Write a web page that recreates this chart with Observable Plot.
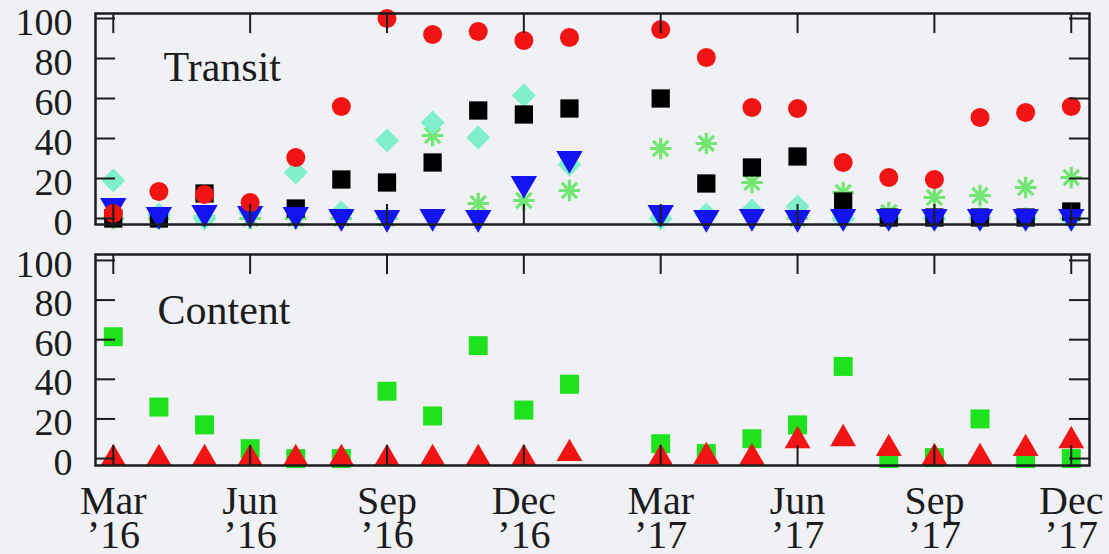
<!DOCTYPE html>
<html>
<head>
<meta charset="utf-8">
<script src="https://cdn.jsdelivr.net/npm/d3@7"></script>
<script src="https://cdn.jsdelivr.net/npm/@observablehq/plot@0.6"></script>
<style>
  html, body { margin: 0; padding: 0; background: #eff1f4; }
  #chart svg { display: block; }
</style>
</head>
<body>
<div id="chart"></div>
<script>
// ---------- data ----------
const months = ["Mar ’16","Apr ’16","May ’16","Jun ’16","Jul ’16","Aug ’16","Sep ’16","Oct ’16","Nov ’16","Dec ’16","Jan ’17","Feb ’17",
                "Mar ’17","Apr ’17","May ’17","Jun ’17","Jul ’17","Aug ’17","Sep ’17","Oct ’17","Nov ’17","Dec ’17"];
const xTickMonths = [0, 3, 6, 9, 12, 15, 18, 21];
const xTickLabels = ["Mar\n’16","Jun\n’16","Sep\n’16","Dec\n’16","Mar\n’17","Jun\n’17","Sep\n’17","Dec\n’17"];
const yTicks = [0, 20, 40, 60, 80, 100];
const panelTitles = ["Transit", "Content"];

// Transit panel
const transitRedCircle   = [2.5, 13.5, 12, 8, 30.5, 56, 100, 92, 93.5, 89, 90.5, null, 94.5, 80.5, 55.5, 55, 28, 20.5, 19.5, 50.5, 53, 56];
const transitBlackSquare = [0, 0, 12.5, null, 5, 19.5, 18, 28, 54, 52, 55, null, 60, 17.5, 25.5, 31, 8.5, 0.5, 0.5, 0.5, 0.5, 3.5];
const transitAquaDiamond = [19, 2, 0, 3, 23, 3, 39, 48, 40.5, 61.5, 27, null, 0, 2, 4, 6, 0, 0, 0, 0, 0, 0];
const transitGreenStar   = [0, 0, 1, 0, 0, 0, 0, 41.5, 7.5, 9, 14, null, 35, 37.5, 18, 0, 13, 3, 10.5, 11.5, 15.5, 20.5];
const transitBlueTri     = [6.5, 2, 3, 2.5, 2, 1, 0.5, 1, 0.5, 17.5, 30, null, 3, 0.5, 1, 0.5, 1, 1, 1, 1, 1, 1];

// Content panel
const contentGreenSquare = [61.5, 26, 17, 5, 0, 0, 34, 21.5, 57, 24.5, 37.5, null, 7.5, 2.5, 10, 17, 46.5, 0, 0.5, 20, 0, 0];
const contentRedTri      = [0, 0, 0, 0, 0, 0, 0, 0, 0, 0, 2.5, null, 0, 1, 0.5, 9, 10, 5, 0.5, 0.5, 5, 9];

// ---------- helpers ----------
function rows(values) {
  return months.map((m, i) => ({month: i, label: m, value: values[i]})).filter(d => d.value != null);
}

const W = 1109, ML = 95, MR = 20;
const frameW = W - ML - MR;
const tickLen = 20;
const ink = "#1c1c1c";
const bg = "#eff1f4";
const font = "'Liberation Serif', 'Times New Roman', serif";
const xDomain = [-0.39, 21.4];
const starColor = "#72e672";

function frameTicks(frameH) {
  const o = {stroke: ink, strokeWidth: 2};
  return [
    Plot.tickY(yTicks, {y: d => d, insetRight: frameW - tickLen, ...o}),
    Plot.tickY(yTicks, {y: d => d, insetLeft: frameW - tickLen, ...o}),
    Plot.tickX(xTickMonths, {x: d => d, insetBottom: frameH - tickLen, ...o}),
    Plot.tickX(xTickMonths, {x: d => d, insetTop: frameH - tickLen, ...o})
  ];
}

function yAxis() {
  return Plot.axisY(yTicks, {tickSize: 0, tickPadding: 23, fontSize: 38, dy: 4, fill: ink, label: null});
}

// ---------- top panel ----------
const topH = 239, topMT = 13, topMB = 15;
const topPlot = Plot.plot({
  width: W, height: topH,
  marginTop: topMT, marginBottom: topMB, marginLeft: ML, marginRight: MR,
  style: {background: bg, fontFamily: font, overflow: "visible", color: ink},
  x: {type: "linear", domain: xDomain, axis: null},
  y: {domain: [-3, 102.5]},
  marks: [
    yAxis(),
    Plot.dot(rows(transitGreenStar), {x: "month", y: "value", symbol: "plus", r: 7, stroke: starColor, strokeWidth: 3.2, fill: "none"}),
    Plot.dot(rows(transitGreenStar), {x: "month", y: "value", symbol: "times", r: 7, stroke: starColor, strokeWidth: 3.2, fill: "none"}),
    Plot.dot(rows(transitAquaDiamond), {x: "month", y: "value", symbol: "diamond2", r: 10.8, fill: "#7eefc9", stroke: "none"}),
    Plot.dot(rows(transitBlackSquare), {x: "month", y: "value", symbol: "square", r: 10.3, fill: "#000000", stroke: "none"}),
    Plot.dot(rows(transitBlueTri), {x: "month", y: "value", symbol: "triangle", rotate: 180, r: 9.8, fill: "#1414f2", stroke: "none"}),
    Plot.dot(rows(transitRedCircle), {x: "month", y: "value", symbol: "circle", r: 9.5, fill: "#f01414", stroke: "none"}),
    Plot.text([panelTitles[0]], {frameAnchor: "top-left", dx: 68, dy: 67, lineAnchor: "bottom", textAnchor: "start", fontSize: 42, fill: ink}),
    ...frameTicks(topH - topMT - topMB),
    Plot.frame({stroke: ink, strokeWidth: 2.5})
  ]
});

// ---------- bottom panel ----------
const botH = 315, botMT = 15, botMB = 89;
const botPlot = Plot.plot({
  width: W, height: botH,
  marginTop: botMT, marginBottom: botMB, marginLeft: ML, marginRight: MR,
  style: {background: bg, fontFamily: font, overflow: "visible", color: ink},
  x: {type: "linear", domain: xDomain},
  y: {domain: [-3.5, 103]},
  marks: [
    yAxis(),
    Plot.axisX(xTickMonths, {
      tickSize: 0, tickPadding: 24, fontSize: 40, lineHeight: 0.86, fill: ink, label: null,
      tickFormat: d => xTickLabels[xTickMonths.indexOf(d)]
    }),
    Plot.dot(rows(contentGreenSquare), {x: "month", y: "value", symbol: "square", r: 10.7, fill: "#1ee21e", stroke: "none"}),
    Plot.dot(rows(contentRedTri), {x: "month", y: "value", symbol: "triangle", r: 9.6, fill: "#f01414", stroke: "none"}),
    Plot.text([panelTitles[1]], {frameAnchor: "top-left", dx: 62, dy: 69, lineAnchor: "bottom", textAnchor: "start", fontSize: 42, fill: ink}),
    ...frameTicks(botH - botMT - botMB),
    Plot.frame({stroke: ink, strokeWidth: 2.5})
  ]
});

const chart = document.getElementById("chart");
chart.append(topPlot, botPlot);
</script>
</body>
</html>
